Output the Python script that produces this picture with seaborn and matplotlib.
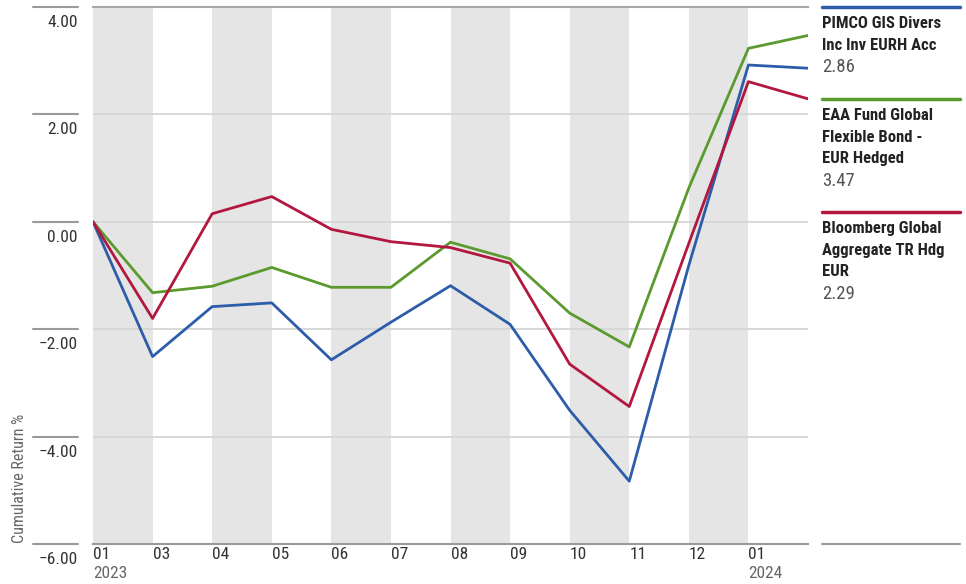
import matplotlib
matplotlib.use("Agg")
import matplotlib.pyplot as plt
from matplotlib.lines import Line2D
from matplotlib.transforms import offset_copy
from matplotlib import font_manager
import seaborn as sns
import pandas as pd

# ---- data ----
x_pos = list(range(13))
x_ticklabels = ["01", "03", "04", "05", "06", "07", "08", "09", "10", "11", "12", "01"]
year_labels = {0: "2023", 11: "2024"}
series_names = ["PIMCO GIS Divers\nInc Inv EURH Acc",
                "EAA Fund Global\nFlexible Bond -\nEUR Hedged",
                "Bloomberg Global\nAggregate TR Hdg\nEUR"]
pimco = [0.00, -2.51, -1.58, -1.51, -2.57, -1.87, -1.19, -1.91, -3.51, -4.83, -0.81, 2.92, 2.86]
eaa = [0.00, -1.32, -1.20, -0.85, -1.22, -1.22, -0.38, -0.69, -1.70, -2.33, 0.63, 3.23, 3.47]
bbg = [0.00, -1.80, 0.15, 0.47, -0.14, -0.37, -0.48, -0.77, -2.65, -3.44, -0.40, 2.61, 2.29]
colors = ["#2D5DAA", "#5B9A2E", "#B3173F"]
yticks = [-6, -4, -2, 0, 2, 4]

df = pd.DataFrame({
    "x": x_pos * 3,
    "value": pimco + eaa + bbg,
    "series": [series_names[0]] * 13 + [series_names[1]] * 13 + [series_names[2]] * 13,
})

sns.set_theme(style="white")

# pick a narrow font if one is installed
ttf = font_manager.fontManager.ttflist
names = {f.name for f in ttf}
chosen, stretch, narrow = None, "normal", True
for c in ["Liberation Sans Narrow", "Roboto Condensed", "DejaVu Sans Condensed", "Arial Narrow"]:
    if c in names:
        chosen = c
        break
if chosen is None:
    if any(f.name == "DejaVu Sans" and f.stretch in ("condensed", "semi-condensed") for f in ttf):
        chosen, stretch = "DejaVu Sans", "condensed"
    elif any(f.name == "Roboto" and f.stretch in ("condensed", "semi-condensed") for f in ttf):
        chosen, stretch = "Roboto", "condensed"
    else:
        chosen, narrow = "Roboto", False
plt.rcParams["font.family"] = [chosen, "DejaVu Sans"]
plt.rcParams["font.stretch"] = stretch

fs_tick = 12.5 if narrow else 11
fs_leg = 12 if narrow else 10.2
fs_val = 13.5 if narrow else 12.5
fs_ylab = 11.5 if narrow else 9.5

W, H = 966, 584
fig = plt.figure(figsize=(W / 100, H / 100), dpi=100)
L, R, T, B = 93, 808, 7, 544
ax = fig.add_axes([L / W, 1 - B / H, (R - L) / W, (B - T) / H])

# alternating bands
for i in range(0, 12, 2):
    ax.axvspan(i, i + 1, color="#e5e5e5", lw=0, zorder=0)
for v in [-4, -2, 0, 2]:
    ax.axhline(v, color="#d6d6d6", lw=1.3, zorder=1)

sns.lineplot(data=df, x="x", y="value", hue="series", palette=colors,
             linewidth=2.0, legend=False, ax=ax, zorder=3)

ax.set_xlim(0, 12)
ax.set_ylim(-6, 4)
for s in ["left", "right"]:
    ax.spines[s].set_visible(False)
ax.spines["top"].set_color("#a8a8a8")
ax.spines["top"].set_linewidth(1.5)
ax.spines["bottom"].set_color("#9a9a9a")
ax.spines["bottom"].set_linewidth(1.5)
ax.set_xlabel("")
ax.set_ylabel("")

# x ticks
ax.set_xticks(x_pos[:12])
ax.set_xticklabels(x_ticklabels, ha="left", fontsize=fs_tick, color="#333333")
ax.tick_params(axis="x", length=0, pad=2)
for i, yl in year_labels.items():
    ax.text(i, 0, yl, transform=offset_copy(ax.get_xaxis_transform(), fig, y=-22, units="dots"),
            ha="left", va="top", fontsize=fs_tick, color="#666666")

# y ticks: short lines with labels underneath
ax.set_yticks([])
ytrans = ax.get_yaxis_transform()
x0 = (33 - L) / (R - L)
x1 = (78 - L) / (R - L)
for v in yticks:
    ax.plot([x0, x1], [v, v], transform=ytrans, color="#9a9a9a", lw=1.5, clip_on=False)
    lab = f"{v:.2f}".replace("-", "\u2212")
    ax.text(x1, v, lab, transform=offset_copy(ytrans, fig, y=-8, units="dots"),
            ha="right", va="top", fontsize=fs_tick, color="#333333")

fig.text(20 / W, 1 - 543 / H, "Cumulative Return %", rotation=90, ha="center", va="bottom",
         fontsize=fs_ylab, color="#666666")

# legend on the right
lx0, lx1 = 822 / W, 960 / W
entries = [
    (7, pimco[-1]),
    (99, eaa[-1]),
    (212, bbg[-1]),
]
for (ly, last), name, c in zip(entries, series_names, colors):
    fig.add_artist(Line2D([lx0, lx1], [1 - ly / H] * 2, color=c, lw=2.5))
    y = ly + 16
    for ln in name.split("\n"):
        fig.text(lx0, 1 - y / H, ln, ha="left", va="center", fontsize=fs_leg,
                 fontweight="bold", color="#222222")
        y += 22
    fig.text(lx0, 1 - y / H, f"{last:.2f}", ha="left", va="center", fontsize=fs_val,
             color="#555555")
fig.add_artist(Line2D([lx0, lx1], [1 - 544 / H] * 2, color="#9a9a9a", lw=1.5))

fig.savefig("out.png", dpi=100)
